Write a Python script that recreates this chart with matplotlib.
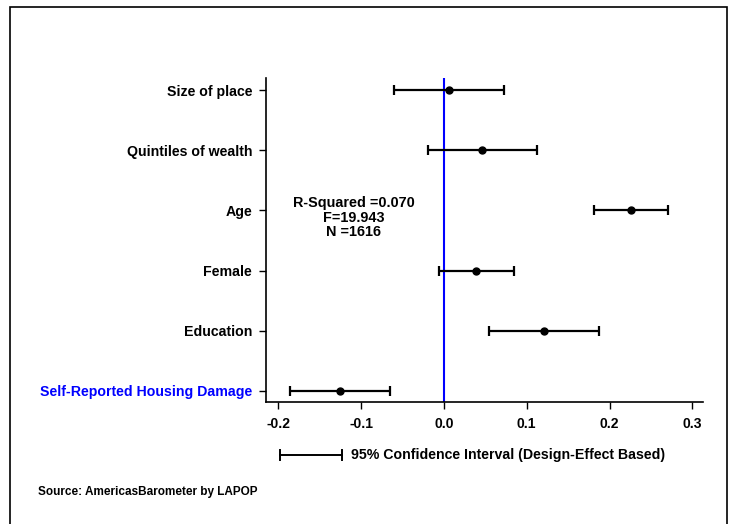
import matplotlib
matplotlib.use("Agg")
import matplotlib.pyplot as plt
from matplotlib.patches import Rectangle

plt.rcParams['font.family'] = ['Liberation Sans', 'DejaVu Sans']

# Regression coefficients with 95% confidence bounds (bottom to top)
variables = ["Self-Reported Housing Damage", "Education", "Female", "Age",
             "Quintiles of wealth", "Size of place"]
coef = [-0.126, 0.121, 0.039, 0.226, 0.046, 0.006]
ci_low = [-0.186, 0.055, -0.006, 0.181, -0.019, -0.060]
ci_high = [-0.065, 0.187, 0.085, 0.271, 0.112, 0.073]
x_ticks = [-0.2, -0.1, 0.0, 0.1, 0.2, 0.3]
x_tick_labels = ["-0.2", "-0.1", "0.0", "0.1", "0.2", "0.3"]
stats_text = "R-Squared =0.070\nF=19.943\nN =1616"

W, H = 729, 524
fig = plt.figure(figsize=(W / 100, H / 100), dpi=100)
fig.patch.set_facecolor("white")

# outer frame
fig.patches.append(Rectangle((10 / W, -0.05), 717 / W, 1.05 - 7 / H,
                             transform=fig.transFigure, fill=False,
                             edgecolor="black", linewidth=1.2))

ax = fig.add_axes([266 / W, 1 - 401.7 / H, (703 - 266) / W, (401.7 - 78) / H])

ypos = list(range(len(variables)))
err_lo = [c - l for c, l in zip(coef, ci_low)]
err_hi = [h - c for c, h in zip(coef, ci_high)]
ax.axvline(0, color="#0000ff", linewidth=1.5, zorder=1)
ax.errorbar(coef, ypos, xerr=[err_lo, err_hi], fmt="o", color="black",
            markersize=5, elinewidth=1.6, capsize=3.5, capthick=1.6, zorder=3)

ax.set_xlim(-0.2149, 0.3129)
ax.set_ylim(-0.18, 5.2)
ax.set_xticks(x_ticks)
ax.set_xticklabels(x_tick_labels, fontsize=10, fontweight="bold")
ax.set_yticks(ypos)
ax.set_yticklabels(variables, fontsize=10.2, fontweight="bold")
ax.get_yticklabels()[0].set_color("#0000ff")
ax.tick_params(axis="y", length=5, width=1, pad=5)
ax.tick_params(axis="x", length=5, width=1, pad=6)
for side in ("top", "right"):
    ax.spines[side].set_visible(False)
for side in ("left", "bottom"):
    ax.spines[side].set_linewidth(1.2)

ax.text(-0.109, 2.88, stats_text, ha="center", va="center",
        fontsize=10.4, fontweight="bold", linespacing=1.05)

# legend line with caps
fig.lines.append(plt.Line2D([280 / W, 342 / W], [1 - 455 / H] * 2,
                            transform=fig.transFigure, color="black", lw=1.4))
for xp in (280, 342):
    fig.lines.append(plt.Line2D([xp / W] * 2, [1 - 450 / H, 1 - 460 / H],
                                transform=fig.transFigure, color="black", lw=1.4))
fig.text(351 / W, 1 - 455 / H, "95% Confidence Interval (Design-Effect Based)",
         ha="left", va="center", fontsize=10.2, fontweight="bold")
fig.text(38 / W, 1 - 492 / H, "Source: AmericasBarometer by LAPOP",
         ha="left", va="center", fontsize=8.5, fontweight="bold")

fig.savefig("out.png", dpi=100)
